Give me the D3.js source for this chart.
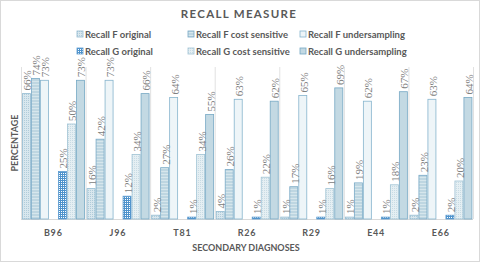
<!DOCTYPE html>
<html>
<head>
<meta charset="utf-8">
<script src="https://d3js.org/d3.v7.min.js"></script>
<style>
  body { margin: 0; background: #fff; }
  svg { display: block; }
  text { font-family: Lato, "Open Sans", sans-serif; fill: #595959; }
</style>
</head>
<body>
<svg id="chart"></svg>
<script>
  // data
  const categories = ["B96", "J96", "T81", "R26", "R29", "E44", "E66"];
  const seriesNames = [
    "Recall F original", "Recall F cost sensitive", "Recall F undersampling",
    "Recall G original", "Recall G cost sensitive", "Recall G undersampling"
  ];
  const fOriginal = [66, 16, 2, 4, 1, 1, 2];
  const fCost     = [74, 42, 27, 26, 17, 19, 23];
  const fUnder    = [73, 73, 64, 63, 65, 62, 63];
  const gOriginal = [25, 12, 1, 1, 1, 1, 2];
  const gCost     = [50, 34, 34, 22, 16, 18, 20];
  const gUnder    = [73, 66, 55, 62, 69, 67, 64];
  const seriesValues = [fOriginal, fCost, fUnder, gOriginal, gCost, gUnder];

  const width = 480, height = 262;
  const svg = d3.select("#chart").attr("width", width).attr("height", height);

  // patterns
  const defs = svg.append("defs");
  function pat(id, size, bg, draw) {
    const p = defs.append("pattern").attr("id", id)
      .attr("patternUnits", "userSpaceOnUse")
      .attr("width", size).attr("height", size);
    p.append("rect").attr("width", size).attr("height", size).attr("fill", bg);
    draw(p);
  }
  pat("p0", 2, "#d9e7ee", p => p.append("rect").attr("width", 1).attr("height", 1).attr("fill", "#b0ccda"));
  pat("p1", 3, "#bed6e1", p => p.append("rect").attr("width", 3).attr("height", 1).attr("fill", "#d6e6ec"));
  pat("p2", 4, "#eef5f8", p => {});
  pat("p3", 2, "#ffffff", p => {
    p.append("rect").attr("width", 2).attr("height", 1).attr("fill", "#4f93cc");
    p.append("rect").attr("width", 1).attr("height", 2).attr("fill", "#4f93cc");
  });
  pat("p4", 2, "#e5eff3", p => p.append("rect").attr("width", 1).attr("height", 1).attr("fill", "#c8dbe4"));
  pat("p5", 4, "#c3d9e3", p => {});

  const fills = ["url(#p0)", "url(#p1)", "url(#p2)", "url(#p3)", "url(#p4)", "url(#p5)"];
  const strokes = ["#93bbd1", "#78a9c6", "#86b4cd", "#5c9bd0", "#a0c3d4", "#76a8c4"];

  // scales
  const slots = ["s0", "s1", "s2", "gap", "s3", "s4", "s5"];
  const x0 = d3.scaleBand().domain(categories).range([21, 473]);
  const x1 = d3.scaleBand().domain(slots).range([1, 64]);
  const y = d3.scaleLinear().domain([0, 80]).range([219, 67]);

  // border
  svg.append("rect").attr("x", 0.5).attr("y", 0.5)
    .attr("width", width - 1).attr("height", height - 1)
    .attr("fill", "none").attr("stroke", "#d9d9d9");

  // vertical gridlines between categories
  const gridX = categories.map(c => x0(c)).concat([x0.range()[1]]);
  svg.append("g").selectAll("line").data(gridX).join("line")
    .attr("x1", d => d + 0.5).attr("x2", d => d + 0.5)
    .attr("y1", y(80)).attr("y2", y(0))
    .attr("stroke", "#d9d9d9").attr("stroke-width", 0.8);

  // baseline
  svg.append("line")
    .attr("x1", x0.range()[0]).attr("x2", x0.range()[1])
    .attr("y1", y(0) + 0.5).attr("y2", y(0) + 0.5)
    .attr("stroke", "#d9d9d9");

  // bars
  const bars = [];
  categories.forEach((c, ci) => {
    seriesValues.forEach((vals, si) => {
      bars.push({ cat: c, s: si, v: vals[ci], slot: "s" + si });
    });
  });

  svg.append("g").selectAll("rect").data(bars).join("rect")
    .attr("x", d => x0(d.cat) + x1(d.slot) + 0.5)
    .attr("y", d => y(d.v))
    .attr("width", x1.bandwidth() - 1)
    .attr("height", d => y(0) - y(d.v))
    .attr("fill", d => fills[d.s])
    .attr("stroke", d => strokes[d.s])
    .attr("stroke-width", 0.8);

  // data labels
  svg.append("g").selectAll("text").data(bars).join("text")
    .attr("transform", d => {
      const cx = x0(d.cat) + x1(d.slot) + x1.bandwidth() / 2 + 1;
      return `translate(${cx},${y(d.v) - 3}) rotate(-90)`;
    })
    .attr("dy", "0.35em")
    .style("font-family", "'Liberation Serif', serif")
    .style("font-size", "11px")
    .style("fill", "#808080")
    .text(d => d.v + "%");

  // category labels
  svg.append("g").selectAll("text").data(categories).join("text")
    .attr("x", d => x0(d) + x0.bandwidth() / 2)
    .attr("y", 236)
    .attr("text-anchor", "middle")
    .style("font-size", "9px").style("font-weight", 700)
    .style("letter-spacing", "0.8px")
    .text(d => d);

  // title
  svg.append("text").attr("x", 239).attr("y", 18)
    .attr("text-anchor", "middle")
    .style("font-size", "11.5px").style("font-weight", 700)
    .style("letter-spacing", "1.3px")
    .text("RECALL MEASURE");

  // axis titles
  svg.append("text").attr("x", 246).attr("y", 251)
    .attr("text-anchor", "middle")
    .style("font-size", "9px").style("font-weight", 700)
    .text("SECONDARY DIAGNOSES");

  svg.append("text")
    .attr("transform", "translate(18,143) rotate(-90)")
    .attr("text-anchor", "middle")
    .style("font-size", "9px").style("font-weight", 700)
    .text("PERCENTAGE");

  // legend
  const legX = [77, 188, 300];
  const legY = [35, 52];
  const leg = svg.append("g").selectAll("g").data(seriesNames).join("g")
    .attr("transform", (d, i) => `translate(${legX[i % 3]},${legY[Math.floor(i / 3)]})`);
  leg.append("rect").attr("x", 0).attr("y", -4).attr("width", 6).attr("height", 6)
    .attr("fill", (d, i) => fills[i]).attr("stroke", (d, i) => strokes[i]).attr("stroke-width", 0.8);
  leg.append("text").attr("x", 8).attr("y", 2.5)
    .style("font-size", "9.5px").style("font-weight", 700)
    .text(d => d);
</script>
</body>
</html>
